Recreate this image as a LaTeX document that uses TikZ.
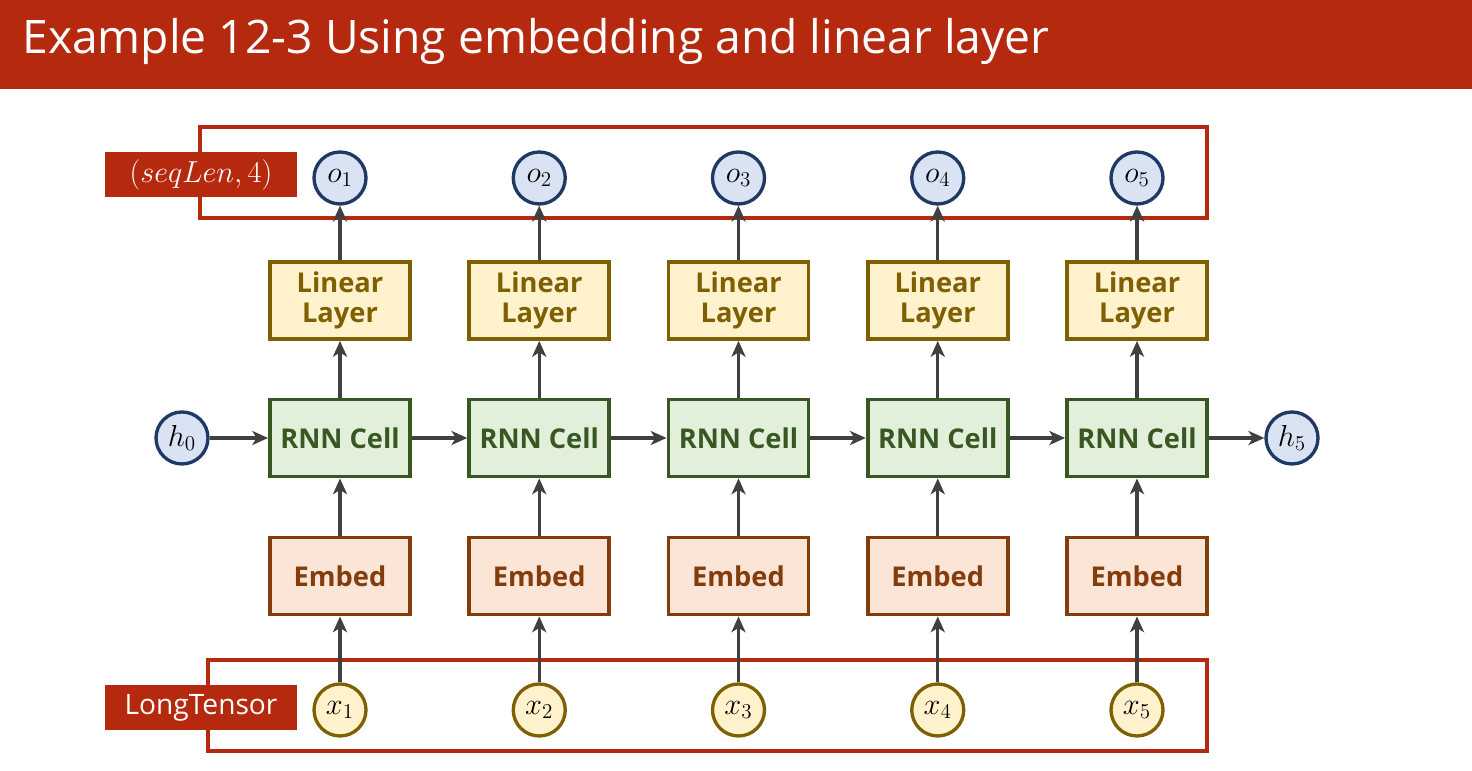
\documentclass[tikz,border=0pt]{standalone}
\usepackage{fontspec}
\setmainfont{Open Sans}
\usepackage{amsmath}
\usetikzlibrary{arrows.meta}
\definecolor{titlered}{HTML}{B5290F}
\definecolor{oblue}{HTML}{DAE3F3}
\definecolor{obluedark}{HTML}{203864}
\definecolor{linyellow}{HTML}{FFF2CC}
\definecolor{linyellowdark}{HTML}{7F6000}
\definecolor{rnngreen}{HTML}{E2EFDA}
\definecolor{rnngreendark}{HTML}{385723}
\definecolor{embpeach}{HTML}{FBE5D6}
\definecolor{embpeachdark}{HTML}{843C0C}
\definecolor{arrowgray}{HTML}{404040}

\begin{document}
\begin{tikzpicture}[x=1cm, y=1cm,
        every node/.style={font=\fontsize{15}{18}\selectfont},
        blockbox/.style={rectangle, line width=2.2pt, minimum width=2.8cm,
          minimum height=1.54cm, align=center, inner sep=2pt,
          font=\fontsize{15.5}{17.5}\selectfont\bfseries},
        linbox/.style={blockbox, draw=linyellowdark, fill=linyellow, text=linyellowdark},
        rnnbox/.style={blockbox, draw=rnngreendark, fill=rnngreen, text=rnngreendark},
        embbox/.style={blockbox, draw=embpeachdark, fill=embpeach, text=embpeachdark},
        statecirc/.style={circle, line width=1.9pt, minimum size=1.04cm, inner sep=0pt,
          font=\fontsize{18}{21}\selectfont},
        outcirc/.style={statecirc, draw=obluedark, fill=oblue},
        incirc/.style={statecirc, draw=linyellowdark, fill=linyellow},
        tagbox/.style={rectangle, fill=titlered, text=white, minimum width=3.84cm,
          minimum height=0.9cm, inner sep=0pt, font=\fontsize{16}{19}\selectfont},
        conn/.style={-{Stealth[length=9pt, width=8pt, inset=2.5pt]},
          line width=1.8pt, arrowgray}]
      % Canvas: 1472x771 px, 1 px = 0.02 cm
      \useasboundingbox (0,0) rectangle (29.44,15.42);

      % Title bar
      \fill[titlered] (0,13.64) rectangle (29.44,15.42);
      \node[anchor=west, text=white, inner sep=0pt,
            font=\fontsize{26.3}{32}\selectfont] (title) at (0.44,14.58)
        {Example 12-3 Using embedding and linear layer};

      % Output and input frames
      \draw[titlered, line width=2.1pt] (4.0,11.06) rectangle (24.14,12.88);
      \draw[titlered, line width=2.1pt] (4.16,0.4) rectangle (24.14,2.22);
      \node[tagbox] (outtag) at (4.02,11.93) {$(seqLen,4)$};
      \node[tagbox] (intag) at (4.02,1.27) {LongTensor};

      % One column per time step
      \foreach \i in {1,...,5} {
        \pgfmathsetmacro\xc{6.8+3.985*(\i-1)}
        \node[outcirc] (o\i) at (\xc,11.86) {$o_{\i}$};
        \node[linbox] (lin\i) at (\xc,9.41) {Linear\\Layer};
        \node[rnnbox] (rnn\i) at (\xc,6.66) {RNN Cell};
        \node[embbox] (emb\i) at (\xc,3.9) {Embed};
        \node[incirc] (x\i) at (\xc,1.22) {$x_{\i}$};
      }

      % Hidden states
      \node[outcirc] (h0) at (3.64,6.66) {$h_{0}$};
      \node[outcirc] (h5) at (25.84,6.66) {$h_{5}$};

      % Vertical flow
      \foreach \i in {1,...,5} {
        \draw[conn] (x\i) -- (emb\i);
        \draw[conn] (emb\i) -- (rnn\i);
        \draw[conn] (rnn\i) -- (lin\i);
        \draw[conn] (lin\i) -- (o\i);
      }

      % Recurrent flow
      \draw[conn] (h0) -- (rnn1);
      \foreach \i/\j in {1/2, 2/3, 3/4, 4/5} {
        \draw[conn] (rnn\i) -- (rnn\j);
      }
      \draw[conn] (rnn5) -- (h5);

    \end{tikzpicture}
\end{document}
